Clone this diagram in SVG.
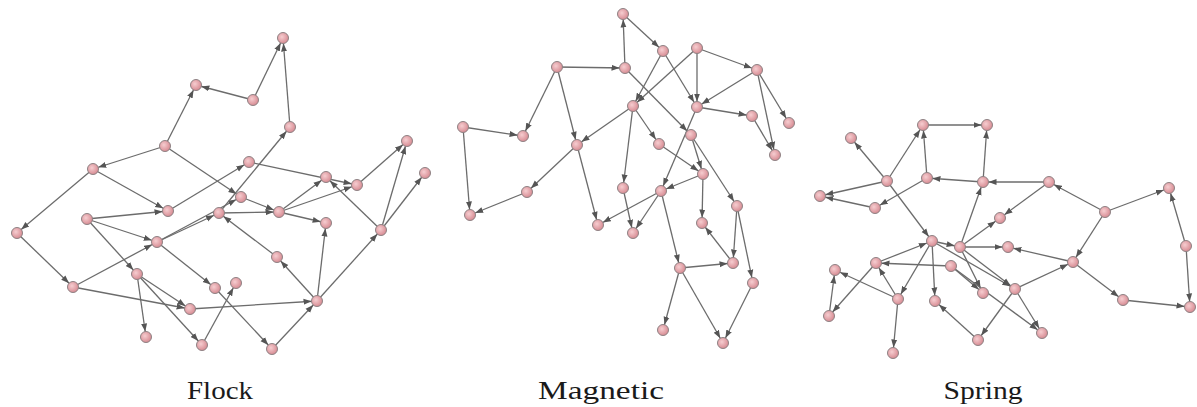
<svg xmlns="http://www.w3.org/2000/svg" width="1197" height="407" viewBox="0 0 1197 407">
<style>
.e{stroke:#6c6c6c;stroke-width:1.3;fill:none;marker-end:url(#ah)}
.n circle{fill:url(#ng);stroke:#8e8284;stroke-width:1}
.t{font-family:"Liberation Serif",serif;font-size:26px;fill:#1a1a1a;text-anchor:middle}
</style>
<defs>
<radialGradient id="ng" cx="40%" cy="40%" r="65%"><stop offset="0" stop-color="#f6cdd0"/><stop offset="1" stop-color="#d5878f"/></radialGradient>
<marker id="ah" viewBox="0 0 14 8" refX="13.5" refY="4" markerWidth="14" markerHeight="8" markerUnits="userSpaceOnUse" orient="auto"><path d="M0,1 L8,4 L0,7 z" fill="#555"/></marker>
</defs>
<rect width="1197" height="407" fill="#fff"/>
<g id="connectors">
<line class="e" x1="253" y1="100" x2="283" y2="38"/>
<line class="e" x1="290" y1="127" x2="283" y2="38"/>
<line class="e" x1="253" y1="100" x2="196" y2="85"/>
<line class="e" x1="165" y1="146" x2="196" y2="85"/>
<line class="e" x1="165" y1="146" x2="93" y2="169"/>
<line class="e" x1="165" y1="146" x2="241" y2="197"/>
<line class="e" x1="93" y1="169" x2="17" y2="233"/>
<line class="e" x1="93" y1="169" x2="168" y2="211"/>
<line class="e" x1="17" y1="233" x2="73" y2="287"/>
<line class="e" x1="87" y1="219" x2="168" y2="211"/>
<line class="e" x1="87" y1="219" x2="157" y2="242"/>
<line class="e" x1="87" y1="219" x2="137" y2="274"/>
<line class="e" x1="73" y1="287" x2="157" y2="242"/>
<line class="e" x1="73" y1="287" x2="190" y2="309"/>
<line class="e" x1="157" y1="242" x2="215" y2="288"/>
<line class="e" x1="157" y1="242" x2="241" y2="197"/>
<line class="e" x1="157" y1="242" x2="219" y2="213"/>
<line class="e" x1="168" y1="211" x2="249" y2="162"/>
<line class="e" x1="137" y1="274" x2="146" y2="337"/>
<line class="e" x1="137" y1="274" x2="190" y2="309"/>
<line class="e" x1="137" y1="274" x2="202" y2="345"/>
<line class="e" x1="190" y1="309" x2="317" y2="301"/>
<line class="e" x1="215" y1="288" x2="272" y2="349"/>
<line class="e" x1="202" y1="345" x2="236" y2="283"/>
<line class="e" x1="219" y1="213" x2="279" y2="212"/>
<line class="e" x1="279" y1="212" x2="326" y2="177"/>
<line class="e" x1="279" y1="212" x2="357" y2="185"/>
<line class="e" x1="279" y1="212" x2="326" y2="223"/>
<line class="e" x1="241" y1="197" x2="279" y2="212"/>
<line class="e" x1="277" y1="257" x2="219" y2="213"/>
<line class="e" x1="317" y1="301" x2="277" y2="257"/>
<line class="e" x1="317" y1="301" x2="326" y2="223"/>
<line class="e" x1="317" y1="301" x2="381" y2="230"/>
<line class="e" x1="381" y1="230" x2="407" y2="141"/>
<line class="e" x1="381" y1="230" x2="425" y2="173"/>
<line class="e" x1="381" y1="230" x2="326" y2="177"/>
<line class="e" x1="272" y1="349" x2="317" y2="301"/>
<line class="e" x1="357" y1="185" x2="407" y2="141"/>
<line class="e" x1="249" y1="162" x2="357" y2="185"/>
<line class="e" x1="219" y1="213" x2="290" y2="127"/>

<line class="e" x1="625" y1="68" x2="623" y2="14"/>
<line class="e" x1="623" y1="14" x2="663" y2="51"/>
<line class="e" x1="557" y1="67" x2="625" y2="68"/>
<line class="e" x1="557" y1="67" x2="523" y2="136"/>
<line class="e" x1="557" y1="67" x2="577" y2="145"/>
<line class="e" x1="463" y1="127" x2="523" y2="136"/>
<line class="e" x1="633" y1="106" x2="577" y2="145"/>
<line class="e" x1="463" y1="127" x2="470" y2="215"/>
<line class="e" x1="527" y1="192" x2="470" y2="215"/>
<line class="e" x1="577" y1="145" x2="527" y2="192"/>
<line class="e" x1="577" y1="145" x2="598" y2="225"/>
<line class="e" x1="633" y1="106" x2="623" y2="188"/>
<line class="e" x1="697" y1="48" x2="757" y2="70"/>
<line class="e" x1="663" y1="51" x2="633" y2="106"/>
<line class="e" x1="697" y1="48" x2="633" y2="106"/>
<line class="e" x1="663" y1="51" x2="697" y2="107"/>
<line class="e" x1="697" y1="48" x2="697" y2="107"/>
<line class="e" x1="757" y1="70" x2="697" y2="107"/>
<line class="e" x1="757" y1="70" x2="789" y2="123"/>
<line class="e" x1="757" y1="70" x2="775" y2="155"/>
<line class="e" x1="697" y1="107" x2="752" y2="116"/>
<line class="e" x1="752" y1="116" x2="775" y2="155"/>
<line class="e" x1="625" y1="68" x2="691" y2="135"/>
<line class="e" x1="633" y1="106" x2="659" y2="144"/>
<line class="e" x1="659" y1="144" x2="703" y2="174"/>
<line class="e" x1="691" y1="135" x2="703" y2="174"/>
<line class="e" x1="697" y1="107" x2="661" y2="191"/>
<line class="e" x1="691" y1="135" x2="737" y2="206"/>
<line class="e" x1="703" y1="174" x2="661" y2="191"/>
<line class="e" x1="703" y1="174" x2="702" y2="223"/>
<line class="e" x1="661" y1="191" x2="633" y2="233"/>
<line class="e" x1="661" y1="191" x2="598" y2="225"/>
<line class="e" x1="623" y1="188" x2="633" y2="233"/>
<line class="e" x1="661" y1="191" x2="680" y2="268"/>
<line class="e" x1="680" y1="268" x2="733" y2="263"/>
<line class="e" x1="733" y1="263" x2="702" y2="223"/>
<line class="e" x1="737" y1="206" x2="733" y2="263"/>
<line class="e" x1="737" y1="206" x2="753" y2="283"/>
<line class="e" x1="680" y1="268" x2="663" y2="330"/>
<line class="e" x1="680" y1="268" x2="723" y2="343"/>
<line class="e" x1="753" y1="283" x2="723" y2="343"/>

<line class="e" x1="923" y1="125" x2="987" y2="125"/>
<line class="e" x1="983" y1="182" x2="987" y2="125"/>
<line class="e" x1="887" y1="181" x2="923" y2="125"/>
<line class="e" x1="927" y1="178" x2="923" y2="125"/>
<line class="e" x1="887" y1="181" x2="851" y2="138"/>
<line class="e" x1="983" y1="182" x2="927" y2="178"/>
<line class="e" x1="887" y1="181" x2="820" y2="196"/>
<line class="e" x1="875" y1="208" x2="820" y2="196"/>
<line class="e" x1="927" y1="178" x2="875" y2="208"/>
<line class="e" x1="887" y1="181" x2="932" y2="241"/>
<line class="e" x1="960" y1="247" x2="983" y2="182"/>
<line class="e" x1="960" y1="247" x2="1000" y2="218"/>
<line class="e" x1="1049" y1="182" x2="983" y2="182"/>
<line class="e" x1="1049" y1="182" x2="1000" y2="218"/>
<line class="e" x1="1105" y1="212" x2="1049" y2="182"/>
<line class="e" x1="1105" y1="212" x2="1169" y2="188"/>
<line class="e" x1="1186" y1="246" x2="1169" y2="188"/>
<line class="e" x1="1186" y1="246" x2="1190" y2="307"/>
<line class="e" x1="1105" y1="212" x2="1073" y2="262"/>
<line class="e" x1="1073" y1="262" x2="1008" y2="247"/>
<line class="e" x1="960" y1="247" x2="1008" y2="247"/>
<line class="e" x1="932" y1="241" x2="960" y2="247"/>
<line class="e" x1="1073" y1="262" x2="1123" y2="300"/>
<line class="e" x1="1123" y1="300" x2="1190" y2="307"/>
<line class="e" x1="1015" y1="289" x2="1073" y2="262"/>
<line class="e" x1="1015" y1="289" x2="1042" y2="333"/>
<line class="e" x1="1015" y1="289" x2="978" y2="340"/>
<line class="e" x1="876" y1="263" x2="932" y2="241"/>
<line class="e" x1="951" y1="266" x2="876" y2="263"/>
<line class="e" x1="876" y1="263" x2="829" y2="316"/>
<line class="e" x1="829" y1="316" x2="835" y2="270"/>
<line class="e" x1="898" y1="299" x2="835" y2="270"/>
<line class="e" x1="898" y1="299" x2="876" y2="263"/>
<line class="e" x1="898" y1="299" x2="893" y2="353"/>
<line class="e" x1="932" y1="241" x2="898" y2="299"/>
<line class="e" x1="932" y1="241" x2="935" y2="301"/>
<line class="e" x1="978" y1="340" x2="935" y2="301"/>
<line class="e" x1="960" y1="247" x2="983" y2="293"/>
<line class="e" x1="951" y1="266" x2="983" y2="293"/>
<line class="e" x1="932" y1="241" x2="1015" y2="289"/>
<line class="e" x1="960" y1="247" x2="1015" y2="289"/>
<line class="e" x1="951" y1="266" x2="1042" y2="333"/>
</g>

<g id="flock-1" class="n"><circle cx="283" cy="38" r="5.5"/></g>
<g id="flock-2" class="n"><circle cx="196" cy="85" r="5.5"/></g>
<g id="flock-3" class="n"><circle cx="253" cy="100" r="5.5"/></g>
<g id="flock-4" class="n"><circle cx="290" cy="127" r="5.5"/></g>
<g id="flock-5" class="n"><circle cx="165" cy="146" r="5.5"/></g>
<g id="flock-6" class="n"><circle cx="93" cy="169" r="5.5"/></g>
<g id="flock-7" class="n"><circle cx="407" cy="141" r="5.5"/></g>
<g id="flock-8" class="n"><circle cx="249" cy="162" r="5.5"/></g>
<g id="flock-9" class="n"><circle cx="326" cy="177" r="5.5"/></g>
<g id="flock-10" class="n"><circle cx="357" cy="185" r="5.5"/></g>
<g id="flock-11" class="n"><circle cx="425" cy="173" r="5.5"/></g>
<g id="flock-12" class="n"><circle cx="17" cy="233" r="5.5"/></g>
<g id="flock-13" class="n"><circle cx="87" cy="219" r="5.5"/></g>
<g id="flock-14" class="n"><circle cx="168" cy="211" r="5.5"/></g>
<g id="flock-15" class="n"><circle cx="157" cy="242" r="5.5"/></g>
<g id="flock-16" class="n"><circle cx="137" cy="274" r="5.5"/></g>
<g id="flock-17" class="n"><circle cx="73" cy="287" r="5.5"/></g>
<g id="flock-18" class="n"><circle cx="190" cy="309" r="5.5"/></g>
<g id="flock-19" class="n"><circle cx="215" cy="288" r="5.5"/></g>
<g id="flock-20" class="n"><circle cx="236" cy="283" r="5.5"/></g>
<g id="flock-21" class="n"><circle cx="146" cy="337" r="5.5"/></g>
<g id="flock-22" class="n"><circle cx="202" cy="345" r="5.5"/></g>
<g id="flock-23" class="n"><circle cx="241" cy="197" r="5.5"/></g>
<g id="flock-24" class="n"><circle cx="219" cy="213" r="5.5"/></g>
<g id="flock-25" class="n"><circle cx="279" cy="212" r="5.5"/></g>
<g id="flock-26" class="n"><circle cx="326" cy="223" r="5.5"/></g>
<g id="flock-27" class="n"><circle cx="381" cy="230" r="5.5"/></g>
<g id="flock-28" class="n"><circle cx="277" cy="257" r="5.5"/></g>
<g id="flock-29" class="n"><circle cx="317" cy="301" r="5.5"/></g>
<g id="flock-30" class="n"><circle cx="272" cy="349" r="5.5"/></g>

<g id="magnetic-1" class="n"><circle cx="623" cy="14" r="5.5"/></g>
<g id="magnetic-2" class="n"><circle cx="663" cy="51" r="5.5"/></g>
<g id="magnetic-3" class="n"><circle cx="697" cy="48" r="5.5"/></g>
<g id="magnetic-4" class="n"><circle cx="557" cy="67" r="5.5"/></g>
<g id="magnetic-5" class="n"><circle cx="625" cy="68" r="5.5"/></g>
<g id="magnetic-6" class="n"><circle cx="757" cy="70" r="5.5"/></g>
<g id="magnetic-7" class="n"><circle cx="633" cy="106" r="5.5"/></g>
<g id="magnetic-8" class="n"><circle cx="697" cy="107" r="5.5"/></g>
<g id="magnetic-9" class="n"><circle cx="752" cy="116" r="5.5"/></g>
<g id="magnetic-10" class="n"><circle cx="789" cy="123" r="5.5"/></g>
<g id="magnetic-11" class="n"><circle cx="463" cy="127" r="5.5"/></g>
<g id="magnetic-12" class="n"><circle cx="523" cy="136" r="5.5"/></g>
<g id="magnetic-13" class="n"><circle cx="577" cy="145" r="5.5"/></g>
<g id="magnetic-14" class="n"><circle cx="659" cy="144" r="5.5"/></g>
<g id="magnetic-15" class="n"><circle cx="691" cy="135" r="5.5"/></g>
<g id="magnetic-16" class="n"><circle cx="775" cy="155" r="5.5"/></g>
<g id="magnetic-17" class="n"><circle cx="703" cy="174" r="5.5"/></g>
<g id="magnetic-18" class="n"><circle cx="623" cy="188" r="5.5"/></g>
<g id="magnetic-19" class="n"><circle cx="661" cy="191" r="5.5"/></g>
<g id="magnetic-20" class="n"><circle cx="527" cy="192" r="5.5"/></g>
<g id="magnetic-21" class="n"><circle cx="470" cy="215" r="5.5"/></g>
<g id="magnetic-22" class="n"><circle cx="598" cy="225" r="5.5"/></g>
<g id="magnetic-23" class="n"><circle cx="633" cy="233" r="5.5"/></g>
<g id="magnetic-24" class="n"><circle cx="702" cy="223" r="5.5"/></g>
<g id="magnetic-25" class="n"><circle cx="737" cy="206" r="5.5"/></g>
<g id="magnetic-26" class="n"><circle cx="680" cy="268" r="5.5"/></g>
<g id="magnetic-27" class="n"><circle cx="733" cy="263" r="5.5"/></g>
<g id="magnetic-28" class="n"><circle cx="753" cy="283" r="5.5"/></g>
<g id="magnetic-29" class="n"><circle cx="663" cy="330" r="5.5"/></g>
<g id="magnetic-30" class="n"><circle cx="723" cy="343" r="5.5"/></g>

<g id="spring-1" class="n"><circle cx="923" cy="125" r="5.5"/></g>
<g id="spring-2" class="n"><circle cx="987" cy="125" r="5.5"/></g>
<g id="spring-3" class="n"><circle cx="851" cy="138" r="5.5"/></g>
<g id="spring-4" class="n"><circle cx="887" cy="181" r="5.5"/></g>
<g id="spring-5" class="n"><circle cx="927" cy="178" r="5.5"/></g>
<g id="spring-6" class="n"><circle cx="983" cy="182" r="5.5"/></g>
<g id="spring-7" class="n"><circle cx="820" cy="196" r="5.5"/></g>
<g id="spring-8" class="n"><circle cx="875" cy="208" r="5.5"/></g>
<g id="spring-9" class="n"><circle cx="1049" cy="182" r="5.5"/></g>
<g id="spring-10" class="n"><circle cx="1000" cy="218" r="5.5"/></g>
<g id="spring-11" class="n"><circle cx="1105" cy="212" r="5.5"/></g>
<g id="spring-12" class="n"><circle cx="1169" cy="188" r="5.5"/></g>
<g id="spring-13" class="n"><circle cx="932" cy="241" r="5.5"/></g>
<g id="spring-14" class="n"><circle cx="960" cy="247" r="5.5"/></g>
<g id="spring-15" class="n"><circle cx="1008" cy="247" r="5.5"/></g>
<g id="spring-16" class="n"><circle cx="1186" cy="246" r="5.5"/></g>
<g id="spring-17" class="n"><circle cx="876" cy="263" r="5.5"/></g>
<g id="spring-18" class="n"><circle cx="835" cy="270" r="5.5"/></g>
<g id="spring-19" class="n"><circle cx="951" cy="266" r="5.5"/></g>
<g id="spring-20" class="n"><circle cx="1073" cy="262" r="5.5"/></g>
<g id="spring-21" class="n"><circle cx="898" cy="299" r="5.5"/></g>
<g id="spring-22" class="n"><circle cx="935" cy="301" r="5.5"/></g>
<g id="spring-23" class="n"><circle cx="983" cy="293" r="5.5"/></g>
<g id="spring-24" class="n"><circle cx="1015" cy="289" r="5.5"/></g>
<g id="spring-25" class="n"><circle cx="1123" cy="300" r="5.5"/></g>
<g id="spring-26" class="n"><circle cx="1190" cy="307" r="5.5"/></g>
<g id="spring-27" class="n"><circle cx="829" cy="316" r="5.5"/></g>
<g id="spring-28" class="n"><circle cx="1042" cy="333" r="5.5"/></g>
<g id="spring-29" class="n"><circle cx="978" cy="340" r="5.5"/></g>
<g id="spring-30" class="n"><circle cx="893" cy="353" r="5.5"/></g>

<g id="labels">
<text class="t" x="220" y="399" textLength="66" lengthAdjust="spacingAndGlyphs">Flock</text>
<text class="t" x="601" y="399" textLength="126" lengthAdjust="spacingAndGlyphs">Magnetic</text>
<text class="t" x="983" y="399" textLength="79" lengthAdjust="spacingAndGlyphs">Spring</text>
</g>
</svg>
